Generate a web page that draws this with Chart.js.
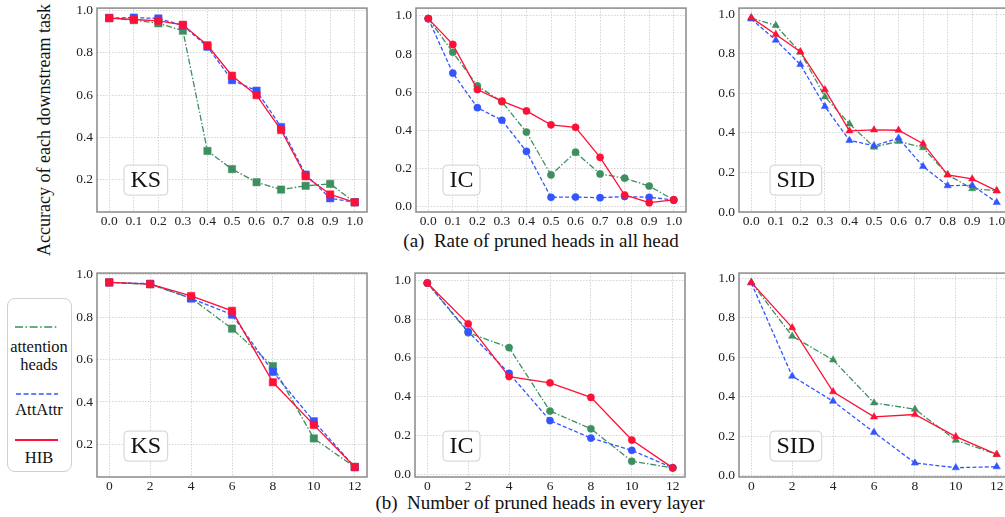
<!DOCTYPE html>
<html>
<head>
<meta charset="utf-8">
<script src="https://cdn.jsdelivr.net/npm/chart.js@4.4.1/dist/chart.umd.min.js"></script>
<style>
  html, body { margin: 0; padding: 0; background: #fff; }
  body { width: 1005px; height: 517px; overflow: hidden; position: relative; font-family: 'Liberation Serif', 'DejaVu Serif', serif; color: #111; }
  .panel { position: absolute; }
  .txt { position: absolute; white-space: pre; line-height: 1; }
  #ytitle { left: 44px; top: 130px; font-size: 18px; transform: translate(-50%, -50%) rotate(-90deg); }
  .caption { font-size: 19px; transform: translate(-50%, -50%); }
  #legend { position: absolute; left: 7px; top: 298px; width: 65px; height: 174px; border: 1px solid #cfcfcf; border-radius: 8px; box-sizing: border-box; }
  .leg-line { position: absolute; left: 15px; }
  .leg-txt { position: absolute; font-size: 16.5px; left: 39px; transform: translate(-50%, -50%); white-space: pre; line-height: 1; }
</style>
</head>
<body>
<div id="ytitle" class="txt">Accuracy of each downstream task</div>
<div class="txt caption" style="left:541px; top:240px;">(a)  Rate of pruned heads in all head</div>
<div class="txt caption" style="left:540px; top:502px;">(b)  Number of pruned heads in every layer</div>

<div id="legend"></div>
<svg class="leg-line" style="top:323px" width="44" height="8"><line x1="0" y1="4" x2="43" y2="4" stroke="#3d8f5f" stroke-width="1.6" stroke-dasharray="8 2.5 1.6 2.5"/></svg>
<div class="leg-txt" style="top:347px">attention</div>
<div class="leg-txt" style="top:365px">heads</div>
<svg class="leg-line" style="top:390px" width="44" height="8"><line x1="1" y1="4" x2="43" y2="4" stroke="#3355ff" stroke-width="1.6" stroke-dasharray="5 2.6"/></svg>
<div class="leg-txt" style="top:410px">AttAttr</div>
<svg class="leg-line" style="top:436px" width="44" height="8"><line x1="0" y1="4" x2="43" y2="4" stroke="#ff1036" stroke-width="1.8"/></svg>
<div class="leg-txt" style="top:458px">HIB</div>

<script>
// x positions / tick labels
const rateX = [0.0, 0.1, 0.2, 0.3, 0.4, 0.5, 0.6, 0.7, 0.8, 0.9, 1.0];
const layerX = [0, 2, 4, 6, 8, 10, 12];
const yTicks = [0.0, 0.2, 0.4, 0.6, 0.8, 1.0];

// (a) rate of pruned heads in all heads
const ksRateAttn    = [0.965, 0.955, 0.940, 0.905, 0.336, 0.250, 0.188, 0.153, 0.171, 0.180, 0.093];
const ksRateAttAttr = [0.965, 0.967, 0.963, 0.930, 0.829, 0.671, 0.621, 0.449, 0.224, 0.112, 0.093];
const ksRateHIB     = [0.965, 0.958, 0.952, 0.933, 0.836, 0.692, 0.600, 0.435, 0.216, 0.130, 0.093];

const icRateAttn    = [0.985, 0.809, 0.633, 0.550, 0.391, 0.167, 0.286, 0.172, 0.150, 0.109, 0.036];
const icRateAttAttr = [0.985, 0.700, 0.519, 0.453, 0.290, 0.050, 0.051, 0.048, 0.054, 0.050, 0.036];
const icRateHIB     = [0.985, 0.850, 0.614, 0.553, 0.502, 0.429, 0.416, 0.259, 0.062, 0.022, 0.036];

const sidRateAttn    = [0.980, 0.942, 0.807, 0.582, 0.445, 0.328, 0.357, 0.325, 0.188, 0.118, 0.108];
const sidRateAttAttr = [0.975, 0.868, 0.745, 0.533, 0.362, 0.335, 0.373, 0.230, 0.133, 0.135, 0.048];
const sidRateHIB     = [0.982, 0.897, 0.810, 0.618, 0.410, 0.415, 0.413, 0.345, 0.188, 0.167, 0.107];

// (b) number of pruned heads in every layer
const ksLayerAttn    = [0.964, 0.955, 0.890, 0.746, 0.569, 0.228, 0.093];
const ksLayerAttAttr = [0.964, 0.958, 0.888, 0.812, 0.542, 0.309, 0.093];
const ksLayerHIB     = [0.964, 0.956, 0.900, 0.830, 0.493, 0.292, 0.093];

const icLayerAttn    = [0.985, 0.730, 0.653, 0.327, 0.236, 0.069, 0.035];
const icLayerAttAttr = [0.985, 0.735, 0.521, 0.278, 0.188, 0.125, 0.035];
const icLayerHIB     = [0.985, 0.775, 0.504, 0.472, 0.397, 0.178, 0.035];

const sidLayerAttn    = [0.978, 0.706, 0.586, 0.369, 0.337, 0.180, 0.108];
const sidLayerAttAttr = [0.975, 0.504, 0.377, 0.220, 0.065, 0.041, 0.046];
const sidLayerHIB     = [0.978, 0.749, 0.425, 0.298, 0.310, 0.198, 0.108];

const GREEN = '#3d8f5f', BLUE = '#3355ff', RED = '#ff1036';
const FONT = "'Liberation Serif', 'DejaVu Serif', serif";

// frame + task label box
const framePlugin = {
    id: 'frame',
    afterDatasetsDraw(chart, args, opts) {
        const { ctx, chartArea: a } = chart;
        ctx.save();
        // label box
        ctx.font = '24px ' + FONT;
        const w = ctx.measureText(opts.label).width + 13;
        const bx = a.left + opts.boxX, by = a.top + opts.boxY, bh = 30;
        ctx.beginPath();
        ctx.roundRect(bx, by, w, bh, 4);
        ctx.fillStyle = 'rgba(255,255,255,0.9)';
        ctx.fill();
        ctx.strokeStyle = '#d0d0d0';
        ctx.lineWidth = 1;
        ctx.stroke();
        ctx.fillStyle = '#111';
        ctx.textAlign = 'center';
        ctx.textBaseline = 'middle';
        ctx.fillText(opts.label, bx + w / 2, by + bh / 2 + 1);
        // spines
        ctx.strokeStyle = '#8a8a8a';
        ctx.lineWidth = 1.5;
        ctx.strokeRect(a.left, a.top, a.right - a.left, a.bottom - a.top);
        ctx.restore();
    }
};

function series(xs, ys, label, color, dash, shape, order) {
    return {
        label: label,
        data: xs.map((x, i) => ({ x: x, y: ys[i] })),
        borderColor: color,
        backgroundColor: color,
        pointBackgroundColor: color,
        pointBorderColor: color,
        borderWidth: 1.3,
        borderDash: dash,
        pointStyle: shape,
        pointRadius: shape === 'rect' ? 5.2 : (shape === 'triangle' ? 4.2 : 3.6),
        pointBorderWidth: 0.5,
        tension: 0,
        order: order
    };
}

function makePanel(p) {
    const div = document.createElement('div');
    div.className = 'panel';
    div.style.left = (p.L - 40) + 'px';
    div.style.top = (p.T - 10) + 'px';
    div.style.width = (p.R - p.L + 44) + 'px';
    div.style.height = (p.B - p.T + 32) + 'px';
    const canvas = document.createElement('canvas');
    div.appendChild(canvas);
    document.body.appendChild(div);

    const tickFont = { family: FONT, size: 13.5 };
    new Chart(canvas.getContext('2d'), {
        type: 'line',
        data: {
            datasets: [
                series(p.xs, p.attn, 'attention heads', GREEN, [6, 2, 1.5, 2], p.shape, 3),
                series(p.xs, p.att, 'AttAttr', BLUE, [4, 2.2], p.shape, 2),
                series(p.xs, p.hib, 'HIB', RED, [], p.shape, 1)
            ]
        },
        options: {
            responsive: true,
            maintainAspectRatio: false,
            animation: false,
            layout: { autoPadding: false, padding: { top: 10, right: 4, left: 0, bottom: 0 } },
            plugins: {
                legend: { display: false },
                tooltip: { enabled: false },
                frame: { label: p.label, boxX: p.boxX, boxY: p.boxY }
            },
            scales: {
                x: {
                    type: 'linear',
                    min: p.xmin, max: p.xmax,
                    afterFit: s => { s.height = 22; },
                    afterBuildTicks: s => { s.ticks = p.xs.map(v => ({ value: v })); },
                    grid: { color: '#d4d4d4', lineWidth: 1, drawTicks: false },
                    border: { display: false, dash: [1.5, 1.5] },
                    ticks: {
                        font: tickFont, color: '#222', padding: 1, maxRotation: 0, autoSkip: false,
                        callback: v => p.fmt(v)
                    }
                },
                y: {
                    type: 'linear',
                    min: p.ymin, max: p.ymax,
                    afterFit: s => { s.width = 40; },
                    afterBuildTicks: s => { s.ticks = yTicks.filter(v => v >= p.ymin - 1e-9 && v <= p.ymax).map(v => ({ value: v })); },
                    grid: { color: '#d4d4d4', lineWidth: 1, drawTicks: false },
                    border: { display: false, dash: [1.5, 1.5] },
                    ticks: {
                        font: tickFont, color: '#222', padding: 4,
                        callback: v => v.toFixed(1)
                    }
                }
            }
        },
        plugins: [framePlugin]
    });
}

const fmtRate = v => v.toFixed(1);
const fmtLayer = v => String(Math.round(v));

makePanel({ L: 97, T: 6, R: 367, B: 212, xs: rateX, xmin: -0.05, xmax: 1.05, ymin: 0.047, ymax: 1.012, fmt: fmtRate,
    attn: ksRateAttn, att: ksRateAttAttr, hib: ksRateHIB, shape: 'rect', label: 'KS', boxX: 27, boxY: 157 });
makePanel({ L: 416, T: 6, R: 686, B: 212, xs: rateX, xmin: -0.05, xmax: 1.05, ymin: -0.027, ymax: 1.04, fmt: fmtRate,
    attn: icRateAttn, att: icRateAttAttr, hib: icRateHIB, shape: 'circle', label: 'IC', boxX: 27, boxY: 157 });
makePanel({ L: 739, T: 6, R: 1009, B: 212, xs: rateX, xmin: -0.05, xmax: 1.05, ymin: 0.0, ymax: 1.03, fmt: fmtRate,
    attn: sidRateAttn, att: sidRateAttAttr, hib: sidRateHIB, shape: 'triangle', label: 'SID', boxX: 31, boxY: 157 });

makePanel({ L: 97, T: 271, R: 367, B: 477, xs: layerX, xmin: -0.6, xmax: 12.6, ymin: 0.046, ymax: 1.008, fmt: fmtLayer,
    attn: ksLayerAttn, att: ksLayerAttAttr, hib: ksLayerHIB, shape: 'rect', label: 'KS', boxX: 27, boxY: 158 });
makePanel({ L: 415, T: 271, R: 685, B: 477, xs: layerX, xmin: -0.6, xmax: 12.6, ymin: -0.012, ymax: 1.036, fmt: fmtLayer,
    attn: icLayerAttn, att: icLayerAttAttr, hib: icLayerHIB, shape: 'circle', label: 'IC', boxX: 28, boxY: 158 });
makePanel({ L: 739, T: 271, R: 1009, B: 477, xs: layerX, xmin: -0.6, xmax: 12.6, ymin: -0.006, ymax: 1.025, fmt: fmtLayer,
    attn: sidLayerAttn, att: sidLayerAttAttr, hib: sidLayerHIB, shape: 'triangle', label: 'SID', boxX: 31, boxY: 158 });
</script>
</body>
</html>
